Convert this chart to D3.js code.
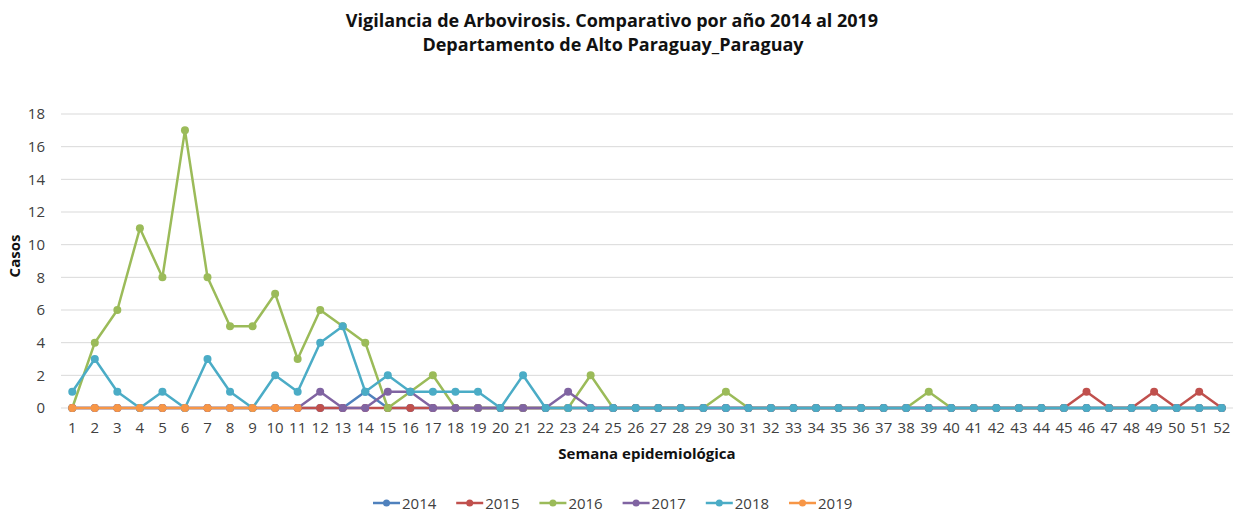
<!DOCTYPE html>
<html><head><meta charset="utf-8">
<script src="https://cdn.jsdelivr.net/npm/d3@7"></script>
<style>body{margin:0;background:#fff}svg{display:block;font-family:"Open Sans","Noto Sans",sans-serif}</style>
</head><body><svg id="c" width="1236" height="512"></svg>
<script>
const weeks = d3.range(1, 53);
const years = ["2014","2015","2016","2017","2018","2019"];
const colors = ["#4F81BD","#C0504D","#9BBB59","#8064A2","#4BACC6","#F79646"];
const yTicks = [0,2,4,6,8,10,12,14,16,18];
// values by week (index 0 = week 1); null = no data
const v2014 = [0,0,0,0,0,0,0,0,0,0,0,0,0,1,0,0,0,0,0,0,0,0,0,0,0,0,0,0,0,0,0,0,0,0,0,0,0,0,0,0,0,0,0,0,0,0,0,0,0,0,0,0];
const v2015 = [null,null,null,null,null,null,null,null,null,null,0,0,0,0,0,0,0,0,0,0,0,0,0,0,0,0,0,0,0,0,0,0,0,0,0,0,0,0,0,0,0,0,0,0,0,1,0,0,1,0,1,0];
const v2016 = [0,4,6,11,8,17,8,5,5,7,3,6,5,4,0,1,2,0,0,0,0,0,0,2,0,0,0,0,0,1,0,0,0,0,0,0,0,0,1,0,0,0,0,0,0,0,0,0,0,0,0,0];
const v2017 = [0,0,0,0,0,0,0,0,0,0,0,1,0,0,1,1,0,0,0,0,0,0,1,0,0,0,0,0,0,0,0,0,0,0,0,0,0,0,0,0,0,0,0,0,0,0,0,0,0,0,0,0];
const v2018 = [1,3,1,0,1,0,3,1,0,2,1,4,5,1,2,1,1,1,1,0,2,0,0,0,0,0,0,0,0,0,0,0,0,0,0,0,0,0,0,0,0,0,0,0,0,0,0,0,0,0,0,0];
const v2019 = [0,0,0,0,0,0,0,0,0,0,0,null,null,null,null,null,null,null,null,null,null,null,null,null,null,null,null,null,null,null,null,null,null,null,null,null,null,null,null,null,null,null,null,null,null,null,null,null,null,null,null,null];
const series = [v2014,v2015,v2016,v2017,v2018,v2019];

const svg = d3.select("#c");
const pLeft = 61, pRight = 1233, pTop = 114, pBottom = 408;
const x = d3.scaleBand().domain(weeks).range([pLeft, pRight]);
const y = d3.scaleLinear().domain([0, 18]).range([pBottom, pTop]);
const cx = w => x(w) + x.bandwidth() / 2;

svg.append("text").attr("x", 612).attr("y", 27).attr("text-anchor", "middle")
  .attr("font-weight", "bold").attr("font-size", 18).attr("fill", "#111")
  .text("Vigilancia de Arbovirosis. Comparativo por año 2014 al 2019");
svg.append("text").attr("x", 613).attr("y", 51).attr("text-anchor", "middle")
  .attr("font-weight", "bold").attr("font-size", 18).attr("fill", "#111")
  .text("Departamento de Alto Paraguay_Paraguay");

// grid
svg.append("g").selectAll("line").data(yTicks).join("line")
  .attr("x1", pLeft).attr("x2", pRight).attr("y1", d => y(d)).attr("y2", d => y(d))
  .attr("stroke", "#d9d9d9").attr("stroke-width", 1);

// y axis
const ya = svg.append("g").attr("transform", `translate(${pLeft - 16},0)`)
  .call(d3.axisLeft(y).tickValues(yTicks).tickSize(0).tickPadding(0));
ya.select(".domain").remove();
ya.selectAll("text").attr("font-size", 15).attr("fill", "#404040").attr("font-family", "Open Sans, sans-serif");

// x axis
const xa = svg.append("g").attr("transform", `translate(0,${pBottom})`)
  .call(d3.axisBottom(x).tickSize(0).tickPadding(14));
xa.select(".domain").remove();
xa.selectAll("text").attr("font-size", 15).attr("fill", "#404040").attr("font-family", "Open Sans, sans-serif");

svg.append("text").attr("transform", "translate(20,256) rotate(-90)").attr("text-anchor", "middle")
  .attr("font-weight", "bold").attr("font-size", 15).attr("fill", "#111").text("Casos");
svg.append("text").attr("x", 647).attr("y", 459).attr("text-anchor", "middle")
  .attr("font-weight", "bold").attr("font-size", 15).attr("fill", "#111").text("Semana epidemiológica");

// lines
const line = d3.line().defined(d => d.v !== null).x(d => cx(d.w)).y(d => y(d.v));
series.forEach((s, i) => {
  const data = weeks.map((w, j) => ({ w, v: s[j] }));
  const g = svg.append("g");
  g.append("path").datum(data).attr("d", line).attr("fill", "none")
    .attr("stroke", colors[i]).attr("stroke-width", 2.5).attr("stroke-linejoin", "round");
  g.selectAll("circle").data(data.filter(d => d.v !== null)).join("circle")
    .attr("cx", d => cx(d.w)).attr("cy", d => y(d.v)).attr("r", 4).attr("fill", colors[i]);
});

// legend
const lg = svg.append("g");
years.forEach((yr, i) => {
  const lx = 373 + i * 83.2, ly = 503;
  lg.append("line").attr("x1", lx).attr("x2", lx + 27).attr("y1", ly).attr("y2", ly)
    .attr("stroke", colors[i]).attr("stroke-width", 2.5);
  lg.append("circle").attr("cx", lx + 13.5).attr("cy", ly).attr("r", 3.5).attr("fill", colors[i]);
  lg.append("text").attr("x", lx + 29).attr("y", ly + 5.5).attr("font-size", 15)
    .attr("fill", "#404040").text(yr);
});
</script></body></html>
